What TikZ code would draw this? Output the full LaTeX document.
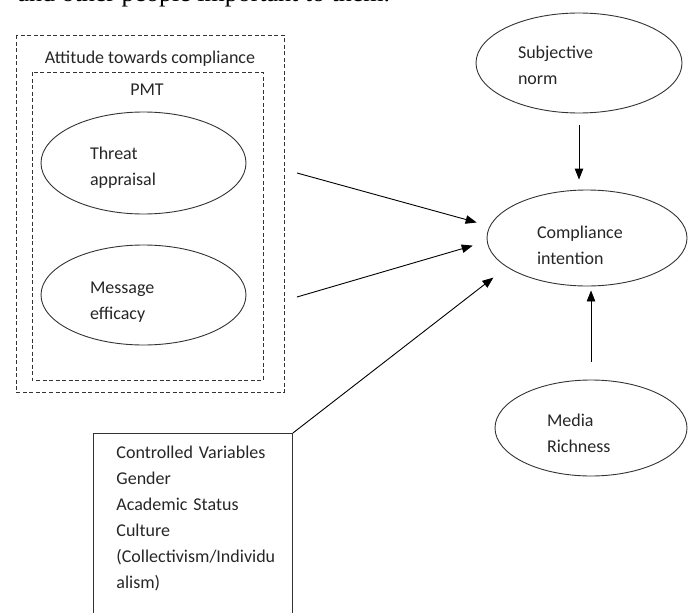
\documentclass[tikz,border=0pt]{standalone}
\usepackage{fontspec}
\setmainfont{Carlito}
\newfontfamily\paraserif{Liberation Serif}
\usetikzlibrary{arrows.meta,shapes.geometric}
\tikzset{
  construct/.style={draw=black!80, ellipse, line width=0.9pt, inner sep=0pt, align=left, text=black!85, text height=22pt},
  frame/.style={draw=black!80, line width=0.9pt, dash pattern=on 4pt off 2.5pt},
  link/.style={-{Triangle[length=11pt,width=8.5pt]}, line width=0.9pt}
}
\begin{document}
\begin{tikzpicture}[x=1pt, y=-1pt, font=\fontsize{18}{26}\selectfont]
    \useasboundingbox (0,0) rectangle (688,613);
    \node [anchor=base west, font=\paraserif\fontsize{26}{30}\selectfont] (para) at (14,1.5) {and other people important to them.};
    % attitude and PMT frames
    \draw [frame] (16,35) rectangle (284,392);
    \draw [frame] (32,72) rectangle (263,380);
    \node [anchor=base, text=black!85] (att) at (150,63) {Attitude towards compliance};
    \node [anchor=base, text=black!85] (pmt) at (147,95) {PMT};
    \node [construct, minimum width=205pt, minimum height=102pt, text width=107pt] (threat) at (143.5,163) {Threat\\appraisal};
    \node [construct, minimum width=205pt, minimum height=100pt, text width=107pt, text height=25pt] (msg) at (143.5,295) {Message\\efficacy};
    % right column
    \node [construct, minimum width=206pt, minimum height=100pt, text width=122pt, text height=18pt] (subj) at (579,63) {Subjective\\norm};
    \node [construct, minimum width=200pt, minimum height=96pt, text width=100pt, text height=27pt] (comply) at (587,238) {Compliance\\intention};
    \node [construct, minimum width=192pt, minimum height=96pt, text width=88pt, text height=23pt] (media) at (591,428) {Media\\Richness};
    % controlled variables
    \node [draw=black!80, line width=0.9pt, anchor=north west, text width=153pt, inner xsep=23pt, inner ysep=13pt, align=left, text depth=175pt, text=black!85] (ctrl) at (93,433)
      {Controlled Variables\\Gender\\Academic Status\\Culture\\(Collectivism/Individu\\alism)};
    \coordinate (tail1) at (297,173);
    \coordinate (tail2) at (297,297);
    \draw [link, shorten >=13.5pt] (tail1) -- (comply.173);
    \draw [link, shorten >=14.7pt] (tail2) -- (comply.182);
    \draw [link, shorten >=17pt] (ctrl.north east) -- (comply.200.6);
    \draw [link, shorten <=12pt, shorten >=10pt] (subj.south) -- (subj.south |- comply.north);
    \draw [link, shorten <=18pt, shorten >=4pt] (media.north) -- (media.north |- comply.south);
\end{tikzpicture}
\end{document}
